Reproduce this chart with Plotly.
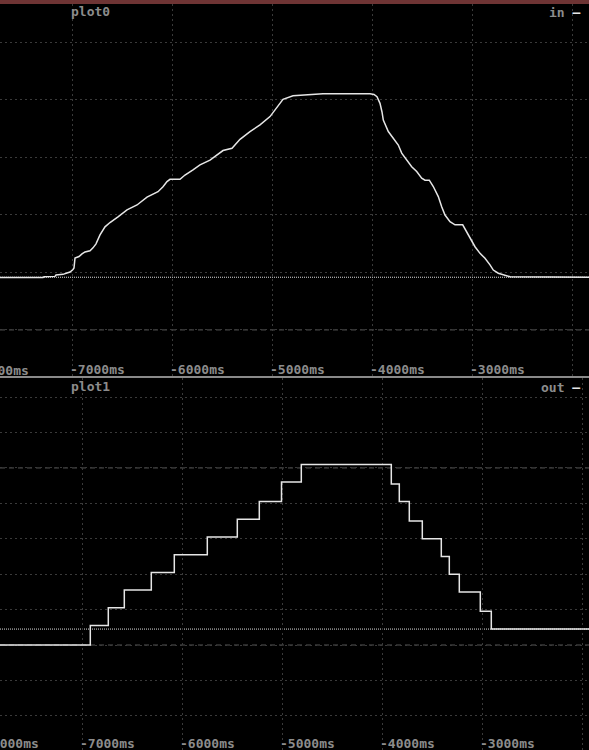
import plotly.graph_objects as go

W, H = 589, 750

# ----------------------------
# Data
# ----------------------------
tick_ms = [-8000, -7000, -6000, -5000, -4000, -3000, -2000]
tick_text = [f"{t}ms" for t in tick_ms]

# plot0 : "in" signal (ms, value)
in_ms = [-7820, -7290, -7280, -7170, -7160, -7090, -7050, -7020, -6990, -6980,
         -6970, -6930, -6900, -6870, -6820, -6790, -6760, -6720, -6670, -6620,
         -6540, -6450, -6350, -6250, -6140, -6090, -6050, -6020, -5920, -5870,
         -5790, -5720, -5620, -5550, -5490, -5400, -5360, -5320, -5220, -5120,
         -5020, -4980, -4950, -4890, -4790, -4620, -4490, -4020, -3980, -3950,
         -3920, -3900, -3887, -3837, -3787, -3737, -3703, -3653, -3603, -3553,
         -3503, -3470, -3427, -3387, -3337, -3303, -3270, -3220, -3170, -3093,
         -3053, -3003, -2970, -2920, -2870, -2820, -2787, -2737, -2670, -2620,
         -1800]
in_val = [0.182, 0.182, 0.185, 0.186, 0.191, 0.193, 0.198, 0.201, 0.210, 0.215,
          0.250, 0.255, 0.264, 0.271, 0.275, 0.285, 0.299, 0.330, 0.358, 0.373,
          0.393, 0.417, 0.434, 0.461, 0.480, 0.497, 0.515, 0.523, 0.523, 0.538,
          0.556, 0.573, 0.590, 0.608, 0.623, 0.631, 0.646, 0.662, 0.689, 0.712,
          0.741, 0.760, 0.775, 0.801, 0.813, 0.816, 0.820, 0.820, 0.818, 0.810,
          0.787, 0.757, 0.729, 0.689, 0.666, 0.642, 0.614, 0.590, 0.567, 0.550,
          0.527, 0.520, 0.520, 0.498, 0.463, 0.428, 0.399, 0.376, 0.365, 0.365,
          0.341, 0.313, 0.289, 0.266, 0.249, 0.226, 0.208, 0.197, 0.190, 0.185,
          0.183]

# plot1 : "out" signal, stepped (value holds until next time)
out_ms = [-7900, -6917, -6737, -6577, -6307, -6077, -5747, -5447, -5227, -5005,
          -4807, -3907, -3827, -3727, -3597, -3407, -3327, -3227, -3017, -2907,
          -1800]
out_val = [0.0, 0.11, 0.21, 0.31, 0.41, 0.51, 0.61, 0.71, 0.81, 0.92,
           1.02, 0.91, 0.81, 0.70, 0.60, 0.50, 0.40, 0.30, 0.19, 0.09,
           0.09]

# axis ranges
x_range_top = [-7720, -1830]
x_range_bot = [-7820, -1930]
y_range_top = [-0.160, 1.132]
y_range_bot = [-0.593, 1.508]

# ----------------------------
# Style
# ----------------------------
FONT = "DejaVu Sans Mono"
GRID = "#3a3a3a"
TXT = "#8c8c8c"
LINE = "#e6e6e6"

top_dom = [1 - 376 / H, 1 - 4 / H]
bot_dom = [0, 1 - 378 / H]

fig = go.Figure()
fig.add_trace(go.Scatter(x=in_ms, y=in_val, mode="lines", name="in",
                         line=dict(color=LINE, width=1.5),
                         xaxis="x", yaxis="y", showlegend=False))
fig.add_trace(go.Scatter(x=out_ms, y=out_val, mode="lines", name="out",
                         line=dict(color=LINE, width=1.5, shape="hv"),
                         xaxis="x2", yaxis="y2", showlegend=False))

xax = dict(tickvals=tick_ms, ticktext=tick_text, showgrid=True, gridcolor=GRID,
           griddash="2px,3px", gridwidth=1, zeroline=False, showline=False,
           ticks="", ticklabelposition="inside right",
           ticklabelstandoff=-7, ticklabelshift=-2,
           tickfont=dict(family=FONT, size=13, color=TXT, weight="bold"))
yax = dict(showgrid=True, gridcolor=GRID, griddash="2px,3px", gridwidth=1,
           dtick=0.2, tick0=0, zeroline=False, showline=False,
           showticklabels=False, ticks="")

fig.update_layout(
    width=W, height=H,
    margin=dict(l=0, r=0, t=0, b=0),
    paper_bgcolor="black", plot_bgcolor="black",
    xaxis=dict(xax, range=x_range_top, domain=[0, 1], anchor="y"),
    yaxis=dict(yax, range=y_range_top, domain=top_dom, anchor="x"),
    xaxis2=dict(xax, range=x_range_bot, domain=[0, 1], anchor="y2"),
    yaxis2=dict(yax, range=y_range_bot, domain=bot_dom, anchor="x2"),
)

shapes = [
    # top bar
    dict(type="rect", xref="paper", yref="paper", x0=0, x1=1, y0=1 - 4 / H, y1=1,
         fillcolor="#6e3434", line_width=0),
    # separator
    dict(type="line", xref="paper", yref="paper", x0=0, x1=1,
         y0=1 - 377 / H, y1=1 - 377 / H, line=dict(color="#8a8a8a", width=2)),
    # dashed reference lines
    dict(type="line", xref="x domain", yref="y", x0=0, x1=1, y0=0, y1=0,
         line=dict(color="#555555", width=1, dash="5px,4px"), layer="below"),
    dict(type="line", xref="x2 domain", yref="y2", x0=0, x1=1, y0=0, y1=0,
         line=dict(color="#555555", width=1, dash="5px,4px"), layer="below"),
    dict(type="line", xref="x2 domain", yref="y2", x0=0, x1=1, y0=1, y1=1,
         line=dict(color="#555555", width=1, dash="5px,4px"), layer="below"),
    # last value markers (dotted)
    dict(type="line", xref="x domain", yref="y", x0=0, x1=1,
         y0=in_val[-1], y1=in_val[-1],
         line=dict(color="#dddddd", width=1, dash="1px,1px"), layer="below"),
    dict(type="line", xref="x2 domain", yref="y2", x0=0, x1=1,
         y0=out_val[-1], y1=out_val[-1],
         line=dict(color="#dddddd", width=1, dash="1px,1px"), layer="below"),
]
fig.update_layout(shapes=shapes)

lab_font = dict(family=FONT, size=13, color=TXT, weight="bold")
annotations = [
    dict(text="plot0", xref="paper", yref="paper", x=69 / W, y=1 - 11 / H,
         xanchor="left", yanchor="middle", showarrow=False, font=lab_font),
    dict(text="plot1", xref="paper", yref="paper", x=69 / W, y=1 - 386 / H,
         xanchor="left", yanchor="middle", showarrow=False, font=lab_font),
    dict(text="in <span style='color:#e6e6e6'>—</span>", xref="paper", yref="paper",
         x=582 / W, y=1 - 12 / H, xanchor="right", yanchor="middle",
         showarrow=False, font=lab_font),
    dict(text="out <span style='color:#e6e6e6'>—</span>", xref="paper", yref="paper",
         x=582 / W, y=1 - 387 / H, xanchor="right", yanchor="middle",
         showarrow=False, font=lab_font),
]
# partially visible -8000ms labels at the left edge
for rng, ypix in [(x_range_top, 370), (x_range_bot, 743)]:
    annotations.append(dict(
        text=tick_text[0], xref="paper", yref="paper",
        x=(tick_ms[0] - rng[0]) / (rng[1] - rng[0]), y=1 - ypix / H,
        xanchor="left", yanchor="middle", showarrow=False, font=lab_font))
fig.update_layout(annotations=annotations)

# drop the page margin so the figure sits at the window's corner
fig.write_html("out.html", config={"displayModeBar": False},
               post_script="document.body.style.margin='0';")
